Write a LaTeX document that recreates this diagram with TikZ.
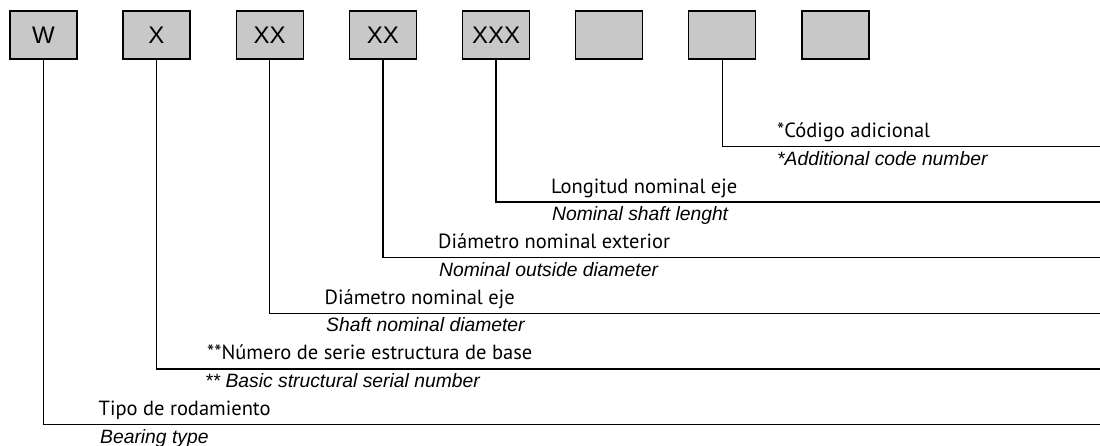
\documentclass[tikz,border=0pt]{standalone}
\usepackage{fontspec}
\newfontfamily\esfont{PT Sans}
\newfontfamily\enfont{Liberation Sans}
\newfontfamily\boxfont{Liberation Sans}
\definecolor{boxgray}{RGB}{200,200,200}
\begin{document}
\begin{tikzpicture}[x=1pt,y=-1pt,
  box/.style={draw=black, line width=1.3pt, fill=boxgray, minimum width=67pt, minimum height=48pt, inner sep=0pt, font=\boxfont\fontsize{24}{28}\selectfont},
  lead/.style={line width=1.3pt},
  es/.style={anchor=base west, inner sep=0pt, font=\esfont\fontsize{20.5}{24}\selectfont},
  en/.style={anchor=base west, inner sep=0pt, font=\enfont\itshape\fontsize{19.3}{22}\selectfont}]
\useasboundingbox (0,0) rectangle (1100,445);
% boxes
\node[box] (b1) at (43.5,35) {W};
\node[box] (b2) at (156.5,35) {X};
\node[box] (b3) at (269.7,35) {XX};
\node[box] (b4) at (382.9,35) {XX};
\node[box] (b5) at (496.1,35) {XXX};
\node[box] (b6) at (609.3,35) {};
\node[box] (b7) at (722.2,35) {};
\node[box] (b8) at (835.5,35) {};
% right ends
\coordinate (r7) at (1100,146.5);
\coordinate (r5) at (1100,202.1);
\coordinate (r4) at (1100,257.7);
\coordinate (r3) at (1100,313.3);
\coordinate (r2) at (1100,368.9);
\coordinate (r1) at (1100,424.5);
% leaders
\draw[lead] (b7.south) |- (r7);
\draw[lead] (b5.south) |- (r5);
\draw[lead] (b4.south) |- (r4);
\draw[lead] (b3.south) |- (r3);
\draw[lead] (b2.south) |- (r2);
\draw[lead] (b1.south) |- (r1);
% labels
\node[es] (s7) at (777,137.5) {*Código adicional};
\node[en] (e7) at (777,165) {*Additional code number};
\node[es] (s5) at (551,193.1) {Longitud nominal eje};
\node[en] (e5) at (552,220.6) {Nominal shaft lenght};
\node[es] (s4) at (438,248.7) {Diámetro nominal exterior};
\node[en] (e4) at (439,276.2) {Nominal outside diameter};
\node[es] (s3) at (324.5,304.3) {Diámetro nominal eje};
\node[en] (e3) at (326,331.8) {Shaft nominal diameter};
\node[es] (s2) at (207,359.9) {**Número de serie estructura de base};
\node[en] (e2) at (205,387.4) {** Basic structural serial number};
\node[es] (s1) at (98.5,415.5) {Tipo de rodamiento};
\node[en] (e1) at (100,443) {Bearing type};
\end{tikzpicture}
\end{document}
